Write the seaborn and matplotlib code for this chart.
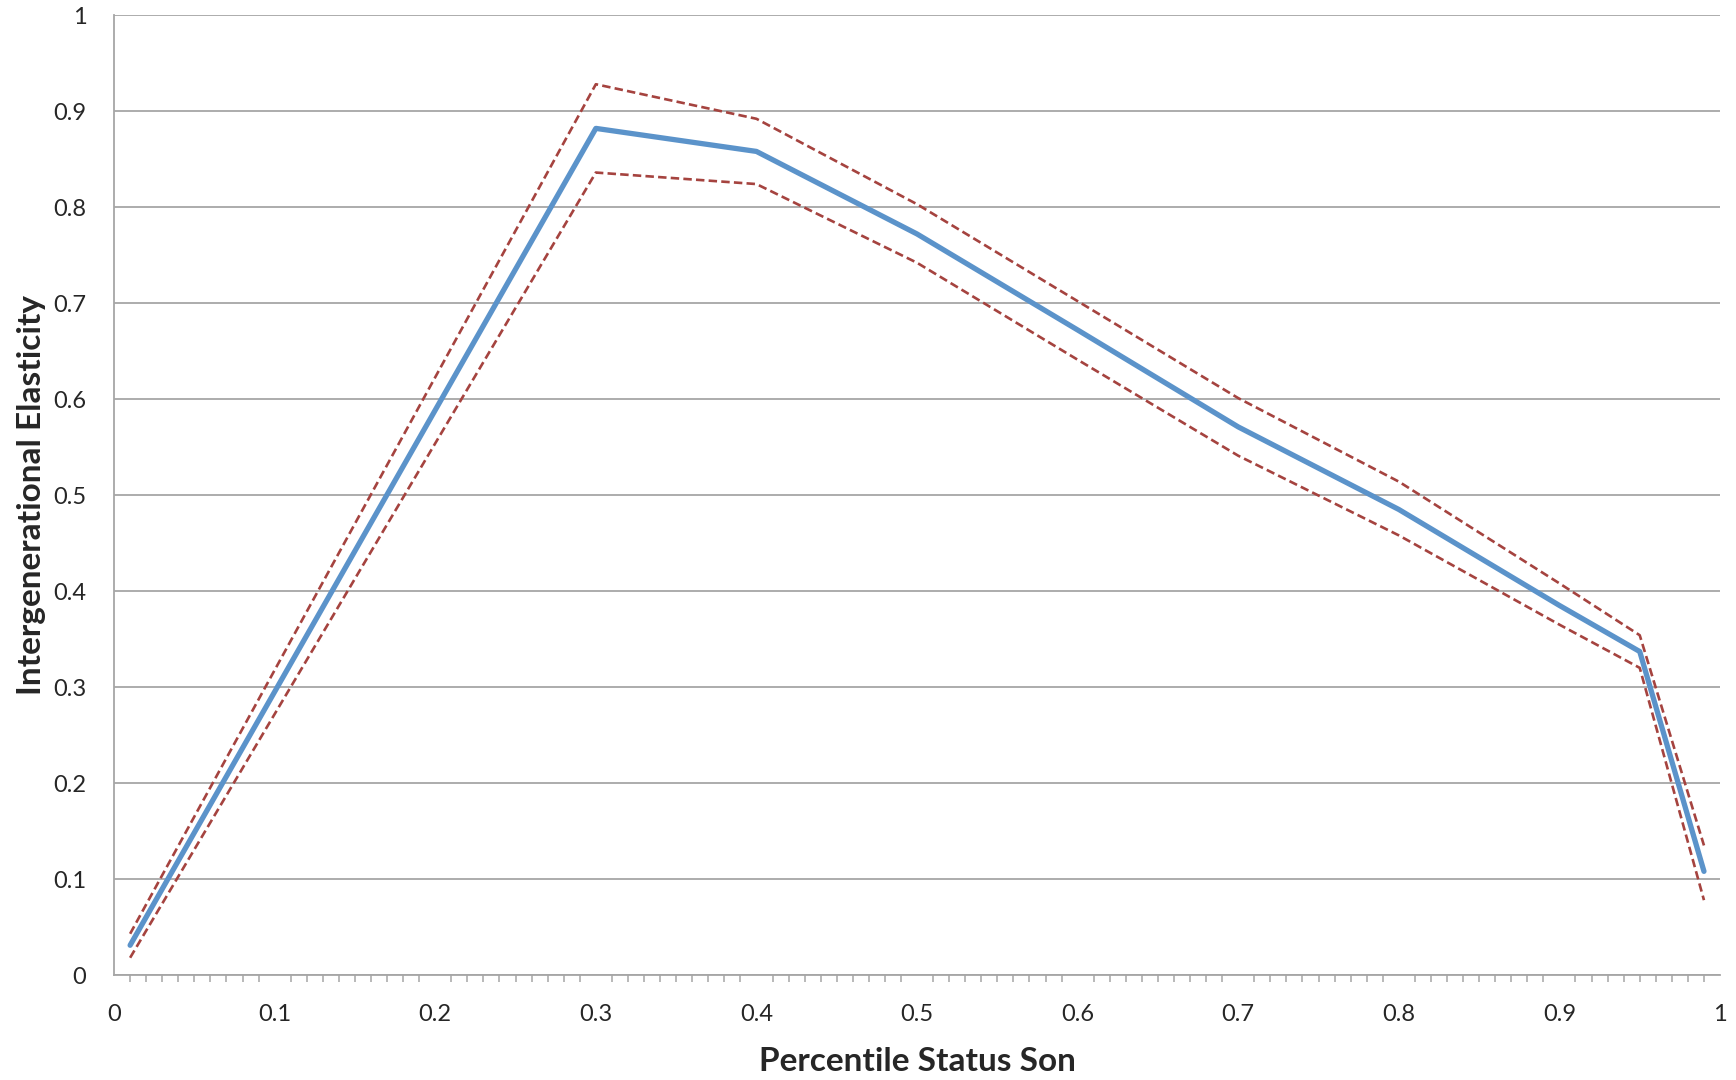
import pandas as pd
import matplotlib.pyplot as plt
import seaborn as sns
from matplotlib.ticker import MultipleLocator

percentile = [0.01, 0.3, 0.4, 0.5, 0.6, 0.7, 0.8, 0.9, 0.95, 0.99]
elasticity = [0.031, 0.882, 0.858, 0.772, 0.672, 0.571, 0.485, 0.385, 0.337, 0.108]
upper_ci = [0.043, 0.928, 0.892, 0.803, 0.702, 0.601, 0.514, 0.408, 0.354, 0.135]
lower_ci = [0.018, 0.836, 0.824, 0.742, 0.641, 0.541, 0.458, 0.365, 0.320, 0.078]
tick_labels = ['0', '0.1', '0.2', '0.3', '0.4', '0.5', '0.6', '0.7', '0.8', '0.9', '1']

df = pd.DataFrame({'Percentile': percentile, 'Elasticity': elasticity,
                   'Upper': upper_ci, 'Lower': lower_ci})

sns.set_style("white")
plt.rcParams['font.family'] = ['Lato', 'DejaVu Sans']

fig = plt.figure(figsize=(17.36, 10.8), dpi=100)
ax = fig.add_axes([0.0657, 0.0972, 0.9251, 0.8888])

grid_col = '#A6A6A6'
red = '#A5433F'

# confidence bands
sns.lineplot(data=df, x='Percentile', y='Upper', ax=ax, color=red, lw=1.9,
             linestyle=(0, (3.2, 1.6)))
sns.lineplot(data=df, x='Percentile', y='Lower', ax=ax, color=red, lw=1.9,
             linestyle=(0, (3.2, 1.6)))
sns.lineplot(data=df, x='Percentile', y='Elasticity', ax=ax, color='#5B93CA', lw=3.8,
             solid_capstyle='round')

ax.set_xlim(0, 1)
ax.set_ylim(0, 1)
ticks = [i / 10 for i in range(11)]
ax.set_xticks(ticks)
ax.set_xticklabels(tick_labels)
ax.set_yticks(ticks)
ax.set_yticklabels(tick_labels)
ax.xaxis.set_minor_locator(MultipleLocator(0.01))

ax.grid(axis='y', color=grid_col, lw=1.3)
ax.set_axisbelow(True)
for s in ['top', 'right']:
    ax.spines[s].set_visible(False)
for s in ['left', 'bottom']:
    ax.spines[s].set_color(grid_col)
    ax.spines[s].set_linewidth(1.3)

ax.tick_params(axis='both', which='major', direction='out', length=8, width=1.3,
               color=grid_col, labelsize=17)
ax.tick_params(axis='x', which='minor', direction='out', length=5, width=1.1,
               color=grid_col, bottom=True)
ax.tick_params(axis='y', which='major', pad=12)
ax.tick_params(axis='x', which='major', pad=13)

ax.set_xlabel("Percentile Status Son", fontsize=24, fontweight='bold', labelpad=16)
ax.set_ylabel("Intergenerational Elasticity", fontsize=24, fontweight='bold', labelpad=5)

fig.savefig("out.png", dpi=100)
